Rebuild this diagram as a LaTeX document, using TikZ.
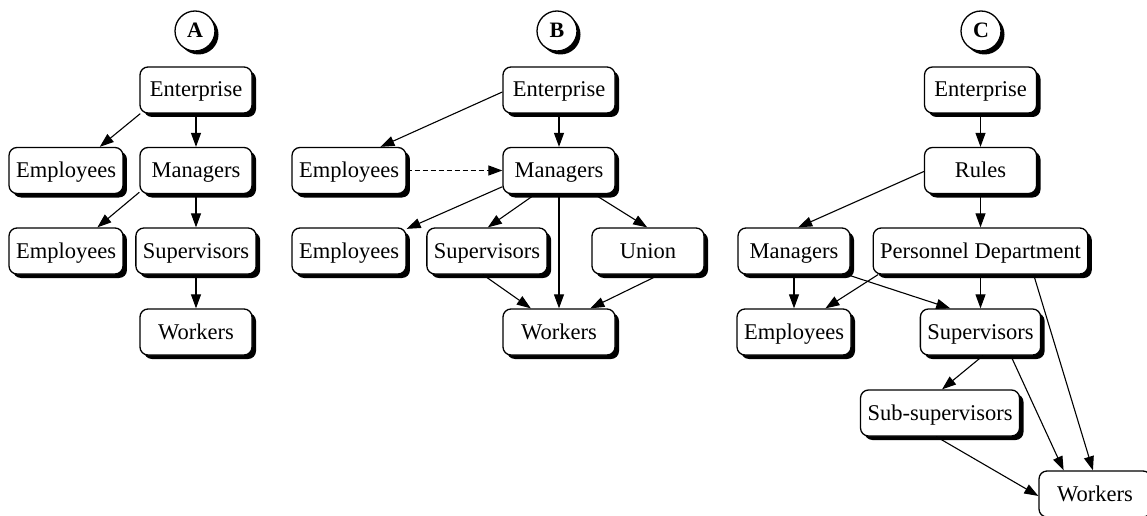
\documentclass[tikz,border=0pt]{standalone}
\usepackage{fontspec}
\setmainfont{Liberation Serif}
\usetikzlibrary{shadows,arrows.meta}
\tikzset{
  box/.style={draw, line width=1.3pt, rounded corners=8pt, fill=white,
    minimum width=112pt, minimum height=46pt, inner xsep=7pt,
    text height=17pt, text depth=3pt,
    font=\fontsize{22.5}{26}\selectfont,
    general shadow={fill=black, shadow xshift=4pt, shadow yshift=-4pt}},
  circ/.style={draw, circle, line width=1.3pt, fill=white, minimum size=40pt,
    inner sep=0pt, text height=17pt, text depth=3pt,
    font=\bfseries\fontsize{22}{26}\selectfont,
    general shadow={fill=black, shadow xshift=3.5pt, shadow yshift=-3.5pt}},
  edge/.style={line width=1.1pt, -{Triangle[length=14pt,width=10pt]}},
  dashededge/.style={edge, dash pattern=on 5pt off 3pt}
}
\begin{document}
\begin{tikzpicture}[x=1pt,y=-1pt]
\useasboundingbox (0,0) rectangle (1147,516);
\clip (0,0) rectangle (1147,516);
% Panel A
\node[circ] (cA) at (195,31) {A};
\node[box] (entA) at (196,90) {Enterprise};
\node[box] (empA1) at (66,170.5) {Employees};
\node[box] (manA) at (196,170.5) {Managers};
\node[box] (empA2) at (66,251) {Employees};
\node[box] (supA) at (196,251) {Supervisors};
\node[box] (worA) at (196,332) {Workers};
% Panel B
\node[circ] (cB) at (557,31) {B};
\node[box] (entB) at (559,90) {Enterprise};
\node[box] (empB1) at (349,170.5) {Employees};
\node[box] (manB) at (559,170.5) {Managers};
\node[box] (empB2) at (349,251) {Employees};
\node[box] (supB) at (487,251) {Supervisors};
\node[box] (uniB) at (648,251) {Union};
\node[box] (worB) at (559,332) {Workers};
% Panel C
\node[circ] (cC) at (981,31) {C};
\node[box] (entC) at (980.5,90) {Enterprise};
\node[box] (rulC) at (980.5,170.5) {Rules};
\node[box] (manC) at (794,251) {Managers};
\node[box] (perC) at (980.5,251) {Personnel Department};
\node[box] (empC) at (794,332) {Employees};
\node[box] (supC) at (980.5,332) {Supervisors};
\node[box] (subC) at (940,413) {Sub-supervisors};
\node[box] (worC) at (1095,494) {Workers};
% Edges A
\draw[edge] (entA.203) -- (empA1.35);
\draw[edge] (entA.south) -- (manA.north);
\draw[edge] (manA.201) -- (empA2.37);
\draw[edge] (manA.south) -- (supA.north);
\draw[edge] (supA.south) -- (worA.north);
% Edges B
\draw[edge] (entB.182) -- (empB1.37);
\draw[edge] (entB.south) -- (manB.north);
\draw[dashededge] (empB1.east) -- (manB.west);
\draw[edge] (manB.196) -- (empB2.21);
\draw[edge] (manB.225) -- (supB.88);
\draw[edge] (manB.south) -- (worB.north);
\draw[edge] (manB.326) -- (uniB.92);
\draw[edge] (supB.260) -- (worB.140);
\draw[edge] (uniB.296) -- (worB.37);
% Edges C
\draw[edge] (entC.south) -- (rulC.north);
\draw[edge] (rulC.181) -- (manC.80);
\draw[edge] (rulC.south) -- (perC.north);
\draw[edge] (manC.south) -- (empC.north);
\draw[edge] (manC.336) -- (supC.142);
\draw[edge] (perC.193) -- (empC.37);
\draw[edge] (perC.south) -- (supC.north);
\draw[edge] (perC.336) -- (worC.95);
\draw[edge] (supC.276) -- (subC.85);
\draw[edge] (supC.322) -- (worC.143);
\draw[edge] (subC.261) -- (worC.182);
\end{tikzpicture}
\end{document}
